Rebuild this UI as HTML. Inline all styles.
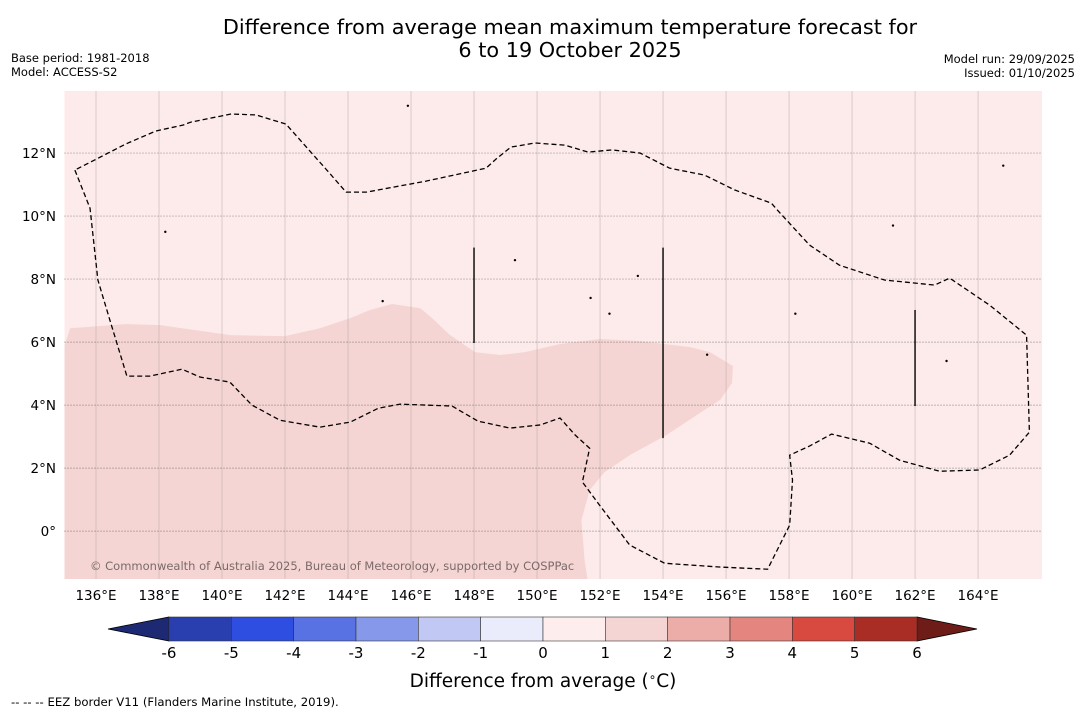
<!DOCTYPE html>
<html><head><meta charset="utf-8"><style>
body{margin:0;background:#fff;font-family:"Liberation Sans","DejaVu Sans",sans-serif}
svg{display:block}
</style></head><body>
<svg id="s" width="1085" height="713" xmlns="http://www.w3.org/2000/svg" font-family="DejaVu Sans, Liberation Sans, sans-serif">
<text x="570" y="34" font-size="20.8" text-anchor="middle">Difference from average mean maximum temperature forecast for</text>
<text x="570" y="57" font-size="20.8" text-anchor="middle">6 to 19 October 2025</text>
<text x="11" y="62" font-size="11.5">Base period: 1981-2018</text>
<text x="11" y="76" font-size="11.5">Model: ACCESS-S2</text>
<text x="1075" y="63" font-size="11.5" text-anchor="end">Model run: 29/09/2025</text>
<text x="1075" y="77" font-size="11.5" text-anchor="end">Issued: 01/10/2025</text>
<g id="map"></g>
<g id="cb"></g>
<text x="543" y="687" font-size="18.5" text-anchor="middle">Difference from average (<tspan font-size="12" dy="-6">∘</tspan><tspan dy="6">C)</tspan></text>
<text x="11" y="706" font-size="11.7">--  --  -- EEZ border V11 (Flanders Marine Institute, 2019).</text>
</svg>
<script>
const NS="http://www.w3.org/2000/svg";
const lonMin=135, lonMax=166.03, latMin=-1.52, latMax=13.97;
const X0=64.5, X1=1042, Y0=91, Y1=579;
const lonTicks=[136,138,140,142,144,146,148,150,152,154,156,158,160,162,164];
const latTicks=[0,2,4,6,8,10,12];
const shadeLon=[135,135.18,136.93,138.04,140.26,142.0,143.11,144.07,144.70,145.40,146.29,146.67,147.24,148.03,148.83,149.62,150.73,152.0,153.27,154.86,155.49,156.22,156.19,155.81,155.17,154.06,152.94,152.14,151.67,151.41,151.51,151.60,135];
const shadeLat=[5.90,6.44,6.57,6.54,6.22,6.19,6.44,6.76,7.02,7.21,7.08,6.76,6.22,5.68,5.59,5.68,5.94,6.10,6.03,5.84,5.68,5.24,4.70,4.16,3.75,3.02,2.41,1.87,1.30,0.35,-0.92,-1.52,-1.52];
const eezLon=[135.33,135.81,136.06,136.44,136.98,137.71,138.73,139.30,140.25,140.95,141.84,143.11,144.07,144.96,145.65,147.30,148.13,149.14,150.10,150.73,151.21,151.67,151.44,151.98,152.94,154.05,155.79,157.32,158.02,158.11,158.02,158.65,159.35,160.56,161.51,162.78,164.05,165.0,165.63,165.54,164.37,163.10,162.62,161.03,159.60,158.65,157.63,157.44,156.27,155.32,154.21,153.27,152.38,151.62,150.89,149.94,149.17,148.70,148.38,146.48,144.58,143.94,143.30,142.03,141.08,140.29,139.0,138.77,137.90,136.95,135.33];
const eezLat=[11.46,10.25,7.97,6.70,4.92,4.92,5.14,4.89,4.73,4.00,3.52,3.30,3.46,3.90,4.03,3.97,3.49,3.27,3.37,3.59,3.05,2.63,1.56,0.83,-0.44,-1.02,-1.14,-1.21,0.19,1.62,2.41,2.70,3.08,2.79,2.25,1.90,1.94,2.41,3.14,6.22,7.17,8.03,7.81,7.97,8.44,9.08,10.19,10.41,10.83,11.30,11.52,12.00,12.10,12.03,12.25,12.32,12.19,11.81,11.52,11.11,10.76,10.76,11.49,12.92,13.21,13.24,12.98,12.89,12.70,12.29,11.46];
const segLon=[148,154,162], segTop=[9.0,9.0,7.02], segBot=[5.97,2.95,3.97];
const islLon=[145.9,138.2,151.7,153.2,152.3,164.8,158.2,155.4,163.0,149.3,161.3,145.1];
const islLat=[13.5,9.5,7.4,8.1,6.9,11.6,6.9,5.6,5.4,8.6,9.7,7.3];

const xs=l=>X0+(l-lonMin)/(lonMax-lonMin)*(X1-X0);
const ys=l=>Y0+(latMax-l)/(latMax-latMin)*(Y1-Y0);
const map=document.getElementById('map');
function mk(t,a,p){const e=document.createElementNS(NS,t);for(const k in a)e.setAttribute(k,a[k]);(p||map).appendChild(e);return e;}

let bg=mk('rect',{x:X0,y:Y0,width:X1-X0,height:Y1-Y0,fill:'#fcebea'});


let sh=mk('polygon',{points:shadeLon.map((l,i)=>xs(l)+','+ys(shadeLat[i])).join(' '),fill:'#f5d5d3'});


lonTicks.forEach(l=>{
  let g=mk('line',{x1:xs(l),x2:xs(l),y1:Y0,y2:Y1,stroke:'#b8a8a8','stroke-width':0.5});
  
  
  let t=mk('text',{x:xs(l),y:600,'font-size':13.5,'text-anchor':'middle'});t.textContent=l+'°E';
  
  
});
latTicks.forEach(l=>{
  let g=mk('line',{x1:X0,x2:X1,y1:ys(l),y2:ys(l),stroke:'#555','stroke-width':0.7,'stroke-dasharray':'1,2'});
  
  
  let t=mk('text',{x:56,y:ys(l)+5,'font-size':13.5,'text-anchor':'end'});t.textContent=l===0?'0°':l+'°N';
  
  
});
let ez=mk('polyline',{points:eezLon.map((l,i)=>xs(l)+','+ys(eezLat[i])).join(' '),fill:'none',stroke:'#000','stroke-width':1.3,'stroke-dasharray':'5,3'});


segLon.forEach((l,i)=>{
  let s=mk('line',{x1:xs(l),x2:xs(l),y1:ys(segTop[i]),y2:ys(segBot[i]),stroke:'#000','stroke-width':1.4});
  
  
});
islLon.forEach((l,i)=>{
  let c=mk('circle',{cx:xs(l),cy:ys(islLat[i]),r:1.2,fill:'#000'});
  
  
});
let ct=mk('text',{x:90,y:570,'font-size':11.5,fill:'#7a6a6a'});ct.textContent='© Commonwealth of Australia 2025, Bureau of Meteorology, supported by COSPPac';



const cbBounds=[-6,-5,-4,-3,-2,-1,0,1,2,3,4,5,6];
const cbColors=['#2a3faf','#2d4ee0','#5872e3','#8598ea','#c0c8f3','#eaecfb','#fdeeed','#f5d5d3','#ecada9','#e4857f','#d8493f','#a92c25'];
const cb=document.getElementById('cb');
const CX0=169,CX1=917,CY=617,CH=24;
const cx=v=>CX0+(v+6)/12*(CX1-CX0);
let lt=mk('polygon',{points:`108,${CY+CH/2} ${CX0},${CY} ${CX0},${CY+CH}`,fill:'#1d2a73',stroke:'#000','stroke-width':0.8},cb);


let rt=mk('polygon',{points:`977,${CY+CH/2} ${CX1},${CY} ${CX1},${CY+CH}`,fill:'#6e1c17',stroke:'#000','stroke-width':0.8},cb);


cbColors.forEach((c,i)=>{
  let r=mk('rect',{x:cx(cbBounds[i]),y:CY,width:cx(cbBounds[i+1])-cx(cbBounds[i]),height:CH,fill:c,stroke:'#333','stroke-width':0.6},cb);
  
  
});
cbBounds.forEach(v=>{
  let t=mk('text',{x:cx(v),y:658,'font-size':15,'text-anchor':'middle'},cb);t.textContent=v;
  
  
});
</script>
</body></html>
